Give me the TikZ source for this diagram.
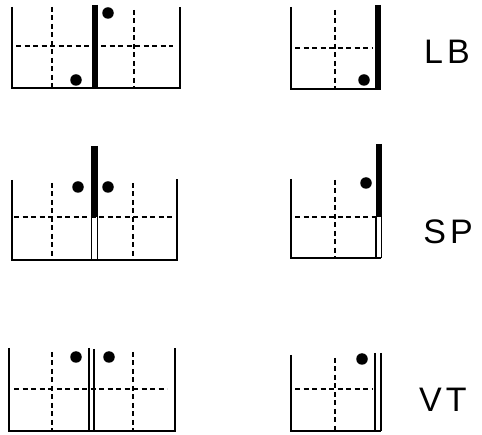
\documentclass[tikz,border=0pt]{standalone}
\usepackage{fontspec}
\newfontfamily\lblfont[LetterSpace=12]{Liberation Sans}
\begin{document}
\begin{tikzpicture}[x=1pt,y=-1pt,
  wall/.style={line width=2.4pt,line join=miter},
  dsh/.style={line width=1.2pt,dash pattern=on 5pt off 3.5pt},
  bar/.style={line width=6.5pt},
  thinl/.style={line width=1.1pt},
  ball/.style={circle,fill=black,inner sep=0pt,minimum size=11.5pt},
  lbl/.style={font=\lblfont\fontsize{34}{38}\selectfont,inner sep=0pt}]
\useasboundingbox (0,0) rectangle (482,435);
% ---- row 1 : LB ----
\draw[dsh] (16,46) -- (173,46);
\draw[dsh] (52,7) -- (52,88);
\draw[dsh] (134,10) -- (134,88);
\draw[wall] (12,7) |- (180,88) -- (180,7);
\draw[bar] (95,5) -- (95,88);
\node[ball] (b1) at (108,13) {};
\node[ball] (b2) at (76,80) {};
\draw[dsh] (295,48) -- (373,48);
\draw[dsh] (335,10) -- (335,89);
\draw[wall] (291,7) |- (378,89);
\draw[line width=5.5pt] (378,5) -- (378,90);
\node[ball] (b3) at (364,80) {};
\node[lbl] (lb) at (447,52) {LB};
% ---- row 2 : SP ----
\draw[dsh] (14,217) -- (172,217);
\draw[dsh] (52,183) -- (52,260);
\draw[dsh] (133,183) -- (133,260);
\draw[wall] (12,180) |- (177,260) -- (177,179);
\draw[bar] (94.5,146) -- (94.5,217);
\draw[thinl] (91.5,217) -- (91.5,260);
\draw[thinl] (97.5,217) -- (97.5,260);
\node[ball] (b4) at (78,187) {};
\node[ball] (b5) at (108,187) {};
\draw[dsh] (295,217) -- (376,217);
\draw[dsh] (335,180) -- (335,258);
\draw[wall] (291,179) |- (381,258);
\draw[line width=6pt] (378.5,144) -- (378.5,217);
\draw[thinl] (376,217) -- (376,258);
\draw[thinl] (381.5,217) -- (381.5,258);
\node[ball] (b6) at (366,183) {};
\node[lbl] (sp) at (448,232) {SP};
% ---- row 3 : VT ----
\draw[dsh] (14,389) -- (167,389);
\draw[dsh] (52,352) -- (52,431);
\draw[dsh] (133,352) -- (133,431);
\draw[wall] (9,348) |- (175,431) -- (175,348);
\draw[thinl] (89,348) -- (89,431);
\draw[thinl] (94,349) -- (94,431);
\node[ball] (b7) at (76,357) {};
\node[ball] (b8) at (109,357) {};
\draw[dsh] (295,389) -- (372,389);
\draw[dsh] (335,358) -- (335,431);
\draw[wall] (291,355) |- (381,431);
\draw[thinl] (375,353) -- (375,431);
\draw[thinl] (381,353) -- (381,431);
\node[ball] (b9) at (362,359) {};
\node[lbl] (vt) at (443,400) {VT};
\end{tikzpicture}
\end{document}
